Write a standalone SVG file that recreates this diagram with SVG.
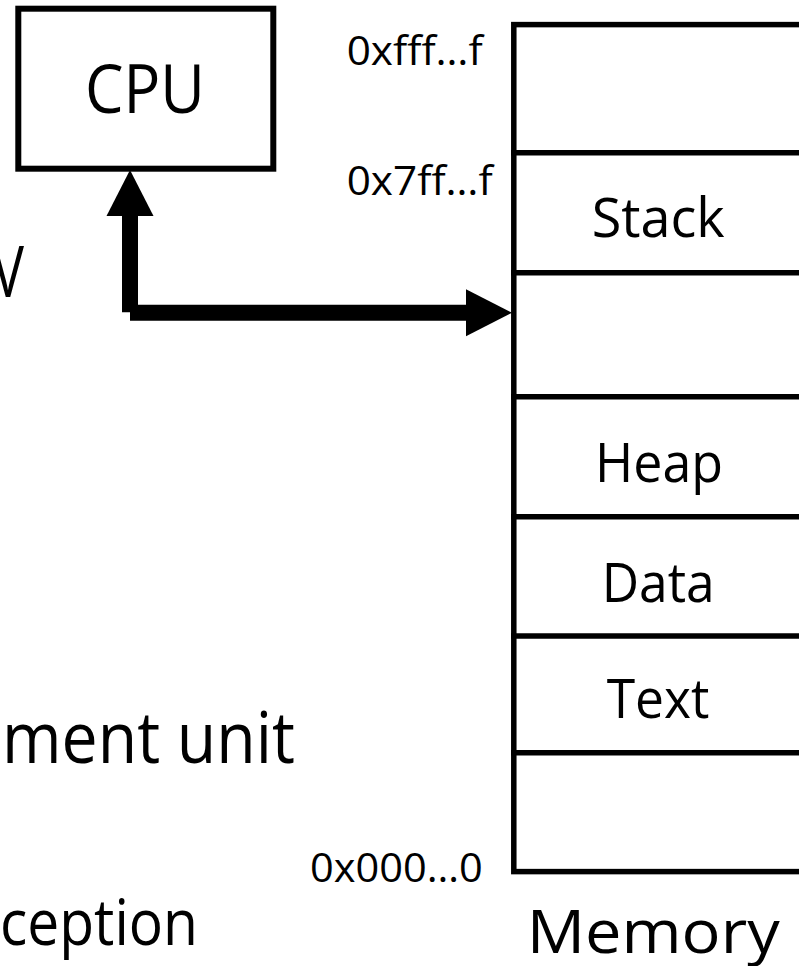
<svg xmlns="http://www.w3.org/2000/svg" width="799" height="966" viewBox="0 0 799 966">
  <style>
    text { font-family: "Open Sans", "Noto Sans", "Liberation Sans", sans-serif; fill: #000; }
    .box { fill: #fff; stroke: #000; stroke-width: 6; }
    .mem { fill: none; stroke: #000; stroke-width: 5.5; }
    .div { stroke: #000; stroke-width: 5.5; }
    .seg { font-size: 55px; }
    .addr { font-size: 40px; }
    .bullet { font-size: 71px; }
    .conn { stroke: #000; stroke-width: 16; fill: none; stroke-linecap: butt; }
  </style>
  <defs>
    <marker id="head" markerUnits="userSpaceOnUse" markerWidth="46" markerHeight="48" refX="0" refY="23.5" orient="auto" overflow="visible">
      <path d="M0,0 L46,23.5 L0,47 Z" fill="#000"/>
    </marker>
  </defs>
  <rect width="799" height="966" fill="#fff"/>

  <g id="slide-text">
    <text class="bullet" x="-8" y="296.7" textLength="32" lengthAdjust="spacingAndGlyphs">V</text>
    <text class="bullet" x="2" y="763" textLength="293" lengthAdjust="spacingAndGlyphs">ment unit</text>
    <text x="0" y="945" font-size="64" textLength="198" lengthAdjust="spacingAndGlyphs">ception</text>
  </g>

  <g id="cpu">
    <rect class="box" x="18.3" y="8.7" width="255" height="160"/>
    <text x="85" y="113.3" font-size="67" textLength="120" lengthAdjust="spacingAndGlyphs">CPU</text>
  </g>

  <g id="memory">
    <rect class="mem" x="513.8" y="24.6" width="300" height="847"/>
    <line class="div" x1="511" y1="152.8" x2="805" y2="152.8"/>
    <line class="div" x1="511" y1="272.7" x2="805" y2="272.7"/>
    <line class="div" x1="511" y1="396.7" x2="805" y2="396.7"/>
    <line class="div" x1="511" y1="516.7" x2="805" y2="516.7"/>
    <line class="div" x1="511" y1="636" x2="805" y2="636"/>
    <line class="div" x1="511" y1="752.7" x2="805" y2="752.7"/>
    <g id="seg-stack"><text class="seg" x="591.7" y="237.3" textLength="133" lengthAdjust="spacingAndGlyphs">Stack</text></g>
    <g id="seg-heap"><text class="seg" x="595" y="481.7" textLength="128" lengthAdjust="spacingAndGlyphs">Heap</text></g>
    <g id="seg-data"><text class="seg" x="601.7" y="601.7" textLength="113" lengthAdjust="spacingAndGlyphs">Data</text></g>
    <g id="seg-text"><text class="seg" x="606.7" y="718.3" textLength="102.7" lengthAdjust="spacingAndGlyphs">Text</text></g>
    <text x="526.7" y="953" font-size="60" textLength="253" lengthAdjust="spacingAndGlyphs">Memory</text>
  </g>

  <g id="addresses">
    <text class="addr" x="346.7" y="65" textLength="136" lengthAdjust="spacingAndGlyphs">0xfff…f</text>
    <text class="addr" x="346.7" y="195" textLength="146" lengthAdjust="spacingAndGlyphs">0x7ff…f</text>
    <text class="addr" x="310" y="881.7" textLength="172.7" lengthAdjust="spacingAndGlyphs">0x000…0</text>
  </g>

  <g id="connectors">
    <line class="conn" x1="130" y1="312.3" x2="130" y2="216" marker-end="url(#head)"/>
    <line class="conn" x1="130" y1="312.8" x2="466" y2="312.8" marker-end="url(#head)"/>
  </g>
</svg>
